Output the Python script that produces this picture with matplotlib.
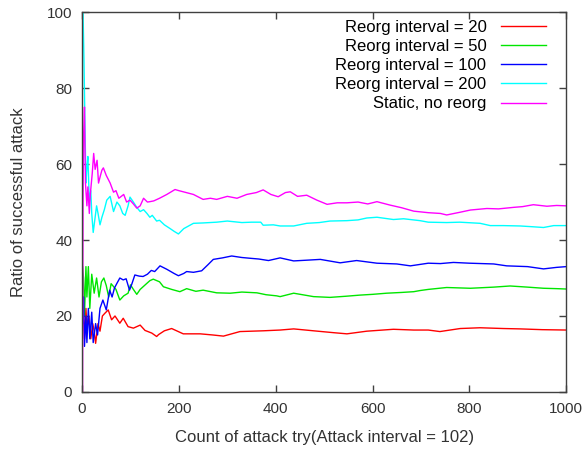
import matplotlib
matplotlib.use("Agg")
import matplotlib.pyplot as plt

plt.rcParams['font.family'] = ['Liberation Sans', 'DejaVu Sans']

# running ratio of successful attacks (%)
x_r20 = [1, 3, 5, 8, 10, 14, 18, 22, 25, 28, 33, 37, 42, 47, 54, 61, 68, 78, 85, 95,
         106, 120, 130, 144, 154, 158, 170, 185, 209, 244, 270, 292, 326, 374, 409, 437, 478, 520, 547, 588,
         643, 685, 715, 739, 781, 822, 870, 905, 950, 1000]
y_r20 = [25, 20, 14, 22, 17, 20, 14, 18, 16, 12.8, 18, 16, 20, 20.7, 21.6, 19, 20, 18.1, 19.4, 17.2,
         16.8, 17.6, 16.2, 15.5, 14.6, 15.1, 16.1, 16.7, 15.3, 15.3, 15.0, 14.7, 15.9, 16.1, 16.3, 16.6, 16.1, 15.6, 15.3, 16.0,
         16.5, 16.3, 16.3, 15.9, 16.7, 16.9, 16.7, 16.6, 16.4, 16.3]

x_r50 = [1, 3, 5, 8, 10, 13, 16, 20, 25, 30, 35, 40, 45, 50, 55, 60, 70, 78, 86, 95,
         100, 106, 113, 120, 133, 140, 147, 160, 168, 185, 202, 216, 235, 250, 278, 306, 330, 361, 380, 402,
         409, 437, 478, 512, 545, 574, 600, 629, 660, 685, 698, 715, 753, 802, 850, 884, 920, 953, 980, 1000]
y_r50 = [33, 30, 20, 33, 25, 33, 22, 31, 26, 30, 25, 29, 30, 28, 25, 28.5, 27, 24.2, 25.3, 26,
         28.2, 27, 25.7, 27, 28.5, 29.3, 29.7, 29, 27.7, 27, 26.4, 27.2, 26.5, 26.8, 26.1, 26.0, 26.3, 26.1, 25.6, 25.3,
         25.1, 26, 25.1, 24.9, 25.2, 25.5, 25.7, 26, 26.2, 26.4, 26.7, 27.0, 27.5, 27.3, 27.6, 27.9, 27.6, 27.3, 27.2, 27.1]

x_r100 = [1, 2, 3, 5, 8, 10, 13, 16, 20, 23, 28, 32, 37, 43, 50, 57, 62, 67, 72, 78,
          85, 91, 98, 103, 109, 118, 126, 135, 143, 150, 161, 175, 190, 199, 210, 216, 230, 247, 260, 271,
          290, 309, 330, 347, 365, 385, 409, 437, 465, 492, 533, 567, 609, 650, 678, 715, 740, 767, 800, 850,
          877, 920, 953, 980, 1000]
y_r100 = [25, 18, 25, 12, 20, 13, 22, 14, 21, 13, 18, 15, 22, 24.2, 21.6, 26.8, 25, 27.4, 28.6, 30,
          29.5, 29.8, 26.8, 28.5, 30.8, 30.5, 30.4, 31, 32, 31.7, 33.2, 32.3, 31.2, 30.6, 31.2, 31.7, 31.5, 31.9, 33.5, 34.9,
          35.3, 35.8, 35.4, 35.2, 35.0, 34.6, 35.3, 34.5, 34.7, 34.9, 34.0, 34.6, 33.9, 33.7, 33.2, 33.9, 33.8, 34.1, 33.9, 33.7,
          33.2, 33.0, 32.4, 32.8, 33.0]

x_r200 = [1, 2, 4, 6, 8, 10, 12, 15, 18, 20, 23, 26, 30, 33, 37, 41, 46, 51, 58, 65,
          72, 78, 84, 89, 95, 99, 106, 113, 120, 127, 134, 140, 145, 154, 160, 170, 182, 190, 199, 210,
          230, 250, 278, 300, 330, 350, 369, 374, 395, 409, 437, 464, 490, 512, 547, 570, 588, 609, 643, 664,
          698, 715, 753, 780, 822, 843, 870, 905, 930, 953, 974, 1000]
y_r200 = [100, 100, 87, 70, 55, 59, 62, 50, 53, 47, 42, 45, 49, 47, 44, 46, 48, 50.5, 51.5, 47.5,
          50, 49, 47, 46.5, 49, 51.3, 50, 48.6, 47.5, 48, 47, 46, 46.5, 45, 45.2, 44, 43, 42.3, 41.6, 43,
          44.4, 44.5, 44.7, 45, 44.6, 44.7, 44.7, 43.9, 44, 43.7, 43.7, 44.4, 44.6, 45.0, 45.1, 45.3, 45.8, 46, 45.4, 45.6,
          45.1, 44.7, 44.6, 44.7, 44.4, 43.8, 43.8, 43.7, 43.5, 43.3, 43.8, 43.8]

x_static = [1, 2, 3, 5, 7, 10, 12, 15, 17, 21, 24, 27, 31, 34, 38, 41, 44, 50, 58, 65,
            70, 76, 86, 92, 99, 106, 113, 120, 127, 135, 140, 148, 160, 175, 192, 200, 215, 230, 250, 265,
            278, 300, 320, 340, 360, 374, 390, 405, 420, 430, 445, 464, 485, 506, 527, 547, 570, 590, 609, 636,
            660, 685, 715, 740, 753, 780, 802, 836, 860, 891, 910, 932, 960, 980, 1000]
y_static = [0, 50, 67, 75, 55, 49, 54, 47, 52, 57.5, 62.8, 58.6, 61, 55, 57, 58.4, 59, 57, 55, 52.6,
            53, 51, 52, 50, 50.5, 49.5, 48.4, 49, 51, 50, 50.1, 50.3, 51, 52, 53.3, 53, 52.5, 52, 50.7, 51,
            50.7, 51.5, 51, 52, 52.5, 53.2, 52, 51.4, 52.5, 52.7, 51.5, 51.8, 50.5, 49.4, 49.8, 49.8, 50, 49.5, 50.1, 49.2,
            48.5, 47.6, 47.2, 47, 46.6, 47.3, 47.9, 48.3, 48.2, 48.6, 48.8, 49.3, 48.9, 49.1, 49.0]

series = [
    ("Reorg interval = 20", x_r20, y_r20, "#ff0000"),
    ("Reorg interval = 50", x_r50, y_r50, "#00e600"),
    ("Reorg interval = 100", x_r100, y_r100, "#0000ff"),
    ("Reorg interval = 200", x_r200, y_r200, "#00ffff"),
    ("Static, no reorg", x_static, y_static, "#ff00ff"),
]

fs = 12

fig = plt.figure(figsize=(5.82, 4.5), dpi=100)
ax = fig.add_axes([0.141, 0.129, 0.832, 0.844])

for name, xs, ys, col in series:
    ax.plot(xs, ys, color=col, lw=1, label=name)

ax.set_xlim(0, 1000)
ax.set_ylim(0, 100)
ax.set_xticks(range(0, 1001, 200))
ax.set_yticks(range(0, 101, 20))
ax.tick_params(direction='in', length=5, width=1, top=True, right=True,
               labelsize=11, colors='#404040', labelcolor='#333333', pad=7)
for s in ax.spines.values():
    s.set_color('#404040')
    s.set_linewidth(1)

ax.set_xlabel("Count of attack try(Attack interval = 102)", fontsize=fs, color='#333333', labelpad=10)
ax.set_ylabel("Ratio of successful attack", fontsize=fs, color='#333333', labelpad=15)

leg = ax.legend(loc='upper right', bbox_to_anchor=(0.959, 0.98), frameon=False,
                markerfirst=False, fontsize=fs,
                handlelength=2.75, handletextpad=0.85, labelspacing=0.25,
                borderaxespad=0, borderpad=0, handleheight=0.7)

fig.savefig("out.png", dpi=100)
